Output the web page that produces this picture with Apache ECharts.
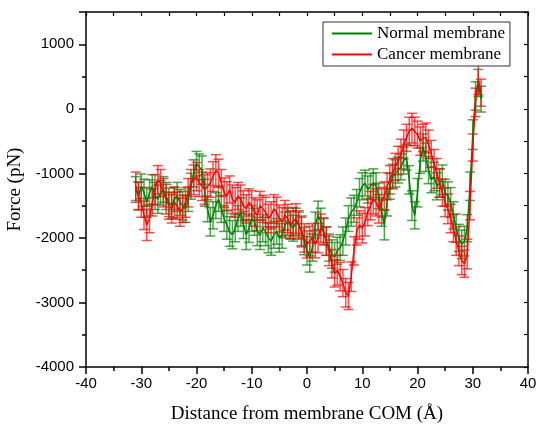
<!DOCTYPE html>
<html>
<head>
<meta charset="utf-8">
<script src="https://cdn.jsdelivr.net/npm/echarts@6/dist/echarts.min.js"></script>
<style>
  html, body { margin: 0; padding: 0; background: #fff; }
  #chart { width: 539px; height: 425px; }
</style>
</head>
<body>
<div id="chart"></div>
<script>
// distance from membrane COM (Å)
const distance = [
  -31, -30.5, -30, -29.5, -29, -28.5, -28, -27.5, -27, -26.5, -26, -25.5, -25, -24.5, -24, -23.5,
  -23, -22.5, -22, -21.5, -21, -20.5, -20, -19.5, -19, -18.5, -18, -17.5, -17, -16.5, -16, -15.5,
  -15, -14.5, -14, -13.5, -13, -12.5, -12, -11.5, -11, -10.5, -10, -9.5, -9, -8.5, -8, -7.5,
  -7, -6.5, -6, -5.5, -5, -4.5, -4, -3.5, -3, -2.5, -2, -1.5, -1, -0.5, 0, 0.5,
  1, 1.5, 2, 2.5, 3, 3.5, 4, 4.5, 5, 5.5, 6, 6.5, 7, 7.5, 8, 8.5,
  9, 9.5, 10, 10.5, 11, 11.5, 12, 12.5, 13, 13.5, 14, 14.5, 15, 15.5, 16, 16.5,
  17, 17.5, 18, 18.5, 19, 19.5, 20, 20.5, 21, 21.5, 22, 22.5, 23, 23.5, 24, 24.5,
  25, 25.5, 26, 26.5, 27, 27.5, 28, 28.5, 29, 29.5, 30, 30.5, 31, 31.5
];

// force (pN), normal membrane
const normalForce = [
  -1250, -1350, -1200, -1300, -1450, -1300, -1200, -1350, -1400, -1300, -1250, -1350, -1450, -1500, -1400, -1350,
  -1450, -1500, -1550, -1400, -1200, -1000, -850, -900, -950, -1300, -1550, -1750, -1650, -1500, -1400, -1550,
  -1700, -1800, -1900, -1950, -1850, -1700, -1600, -1800, -1950, -1850, -1700, -1750, -1900, -1950, -1850, -1900,
  -2000, -2050, -1950, -1900, -2000, -1950, -1800, -1750, -1800, -1850, -1750, -1800, -1900, -2050, -2200, -2300,
  -2150, -1800, -1650, -1750, -1900, -2050, -2150, -2250, -2300, -2200, -2150, -2050, -1900, -1700, -1600, -1550,
  -1450, -1300, -1200, -1150, -1250, -1200, -1150, -1200, -1350, -1600, -1800, -1450, -1200, -1050, -1000, -950,
  -900, -800, -750, -1100, -1500, -1650, -1300, -800, -600, -750, -950, -1100, -1050, -1200, -1150, -1100,
  -1300, -1350, -1450, -1650, -1850, -2000, -2100, -2050, -1850, -1200, -400, 200, 400, 150
];
const normalErr = [
  200, 220, 190, 210, 230, 200, 180, 210, 220, 190, 200, 210, 220, 200, 190, 210,
  200, 220, 210, 190, 200, 210, 190, 200, 220, 210, 200, 220, 210, 200, 190, 210,
  200, 220, 230, 220, 210, 200, 220, 210, 230, 220, 200, 210, 220, 230, 210, 220,
  230, 220, 210, 200, 220, 210, 200, 210, 220, 200, 210, 200, 220, 210, 220, 230,
  210, 200, 220, 210, 200, 220, 210, 220, 230, 210, 200, 220, 210, 200, 220, 210,
  200, 220, 210, 200, 210, 200, 220, 210, 200, 220, 230, 210, 200, 190, 210, 200,
  200, 210, 200, 220, 230, 210, 220, 200, 210, 220, 210, 200, 220, 210, 220, 230,
  210, 220, 230, 210, 220, 210, 220, 230, 210, 220, 230, 220, 210, 200
];

// force (pN), cancer membrane
const cancerForce = [
  -1200, -1350, -1450, -1650, -1800, -1700, -1450, -1250, -1100, -1150, -1300, -1400, -1500, -1550, -1450, -1500,
  -1600, -1550, -1450, -1300, -1150, -1100, -1050, -1150, -1200, -1250, -1200, -1150, -1050, -950, -1000, -1150,
  -1300, -1350, -1250, -1400, -1450, -1350, -1400, -1500, -1550, -1450, -1500, -1600, -1650, -1500, -1550, -1600,
  -1700, -1650, -1550, -1600, -1700, -1750, -1650, -1700, -1800, -1750, -1700, -1800, -1900, -2000, -2100, -2050,
  -2000, -2100, -2000, -1850, -1900, -2050, -2200, -2400, -2550, -2500, -2600, -2700, -2850, -2900, -2600, -2200,
  -1900, -1800, -1850, -1750, -1600, -1500, -1400, -1450, -1550, -1450, -1350, -1200, -1100, -1000, -900, -800,
  -700, -550, -450, -350, -300, -350, -400, -500, -450, -450, -550, -700, -850, -1000, -1150, -1300,
  -1450, -1550, -1700, -1850, -2050, -2200, -2350, -2400, -2250, -1500, -600, 100, 450, 250
];
const cancerErr = [
  220, 210, 230, 220, 240, 220, 210, 230, 220, 210, 220, 230, 210, 220, 230, 210,
  220, 210, 230, 220, 210, 230, 220, 210, 220, 230, 210, 220, 230, 240, 220, 210,
  230, 220, 210, 220, 230, 210, 220, 230, 220, 210, 230, 220, 240, 220, 210, 230,
  220, 210, 220, 230, 210, 220, 230, 220, 210, 220, 230, 220, 240, 220, 210, 230,
  220, 210, 230, 220, 210, 220, 230, 220, 210, 230, 220, 210, 220, 210, 230, 220,
  210, 220, 230, 220, 210, 220, 230, 210, 220, 230, 220, 210, 220, 230, 210, 220,
  230, 220, 210, 220, 230, 220, 210, 220, 210, 230, 220, 210, 220, 230, 220, 210,
  220, 230, 220, 210, 220, 230, 220, 210, 230, 220, 210, 220, 230, 210
];

const xTicks = { min: -40, max: 40, interval: 10 };
const yTicks = { min: -4000, max: 1500, interval: 1000 };

const GREEN = '#008000';
const RED = '#ff0000';

function pairs(ys) {
  return distance.map((x, i) => [x, ys[i]]);
}
function triples(ys, errs) {
  return distance.map((x, i) => [x, ys[i], errs[i]]);
}

function errBars(color) {
  return function (params, api) {
    const x = api.value(0), y = api.value(1), e = api.value(2);
    const top = api.coord([x, y + e]);
    const bot = api.coord([x, y - e]);
    const hw = 5;
    const style = { stroke: color, lineWidth: 1.5, opacity: 0.7 };
    return {
      type: 'group',
      children: [
        { type: 'line', shape: { x1: top[0], y1: top[1], x2: bot[0], y2: bot[1] }, style: style },
        { type: 'line', shape: { x1: top[0] - hw, y1: top[1], x2: top[0] + hw, y2: top[1] }, style: style },
        { type: 'line', shape: { x1: bot[0] - hw, y1: bot[1], x2: bot[0] + hw, y2: bot[1] }, style: style }
      ]
    };
  };
}

const chart = echarts.init(document.getElementById('chart'));

const axisLine = { show: true, onZero: false, lineStyle: { color: '#000', width: 1.5 } };
const sansLabel = {
  color: '#000', fontFamily: 'Liberation Sans', fontSize: 15,
  formatter: v => String(v)
};
const serifName = { color: '#000', fontFamily: 'Liberation Serif', fontSize: 19 };

chart.setOption({
  animation: false,
  backgroundColor: '#fff',
  grid: { left: 86, right: 11, top: 12, bottom: 58, containLabel: false, outerBoundsMode: 'none' },
  legend: {
    data: ['Normal membrane', 'Cancer membrane'],
    orient: 'vertical',
    left: 323,
    top: 22,
    padding: [3, 5, 3, 9],
    itemGap: 4,
    itemWidth: 40,
    itemHeight: 2,
    itemTextGap: 3,
    icon: 'rect',
    borderColor: '#333',
    borderWidth: 1,
    borderRadius: 0,
    backgroundColor: '#fff',
    textStyle: { color: '#000', fontFamily: 'Liberation Serif', fontSize: 17 }
  },
  xAxis: [
    {
      type: 'value',
      min: xTicks.min, max: xTicks.max, interval: xTicks.interval,
      name: 'Distance from membrane COM (Å)',
      nameLocation: 'middle',
      nameGap: 38,
      nameTextStyle: serifName,
      axisLine: axisLine,
      axisTick: { show: true, inside: false, length: 7, lineStyle: { color: '#000', width: 1.5 } },
      minorTick: { show: true, splitNumber: 2, length: 4, lineStyle: { color: '#000', width: 1.5 } },
      axisLabel: Object.assign({ margin: 9 }, sansLabel),
      splitLine: { show: false }
    },
    {
      type: 'value',
      position: 'top',
      min: xTicks.min, max: xTicks.max, interval: xTicks.interval,
      axisLine: axisLine,
      axisTick: { show: true, inside: true, length: 4, lineStyle: { color: '#000', width: 1.2 } },
      minorTick: { show: true, splitNumber: 2, length: 4, lineStyle: { color: '#000', width: 1.2 } },
      axisLabel: { show: false },
      splitLine: { show: false }
    }
  ],
  yAxis: [
    {
      type: 'value',
      min: yTicks.min, max: yTicks.max, interval: yTicks.interval,
      name: 'Force (pN)',
      nameLocation: 'middle',
      nameGap: 56,
      nameTextStyle: serifName,
      axisLine: axisLine,
      axisTick: { show: true, inside: false, length: 7, lineStyle: { color: '#000', width: 1.5 } },
      minorTick: { show: true, splitNumber: 2, length: 4, lineStyle: { color: '#000', width: 1.5 } },
      axisLabel: Object.assign({ margin: 12, showMaxLabel: false }, sansLabel),
      splitLine: { show: false }
    },
    {
      type: 'value',
      position: 'right',
      min: yTicks.min, max: yTicks.max, interval: yTicks.interval,
      axisLine: axisLine,
      axisTick: { show: true, inside: true, length: 4, lineStyle: { color: '#000', width: 1.2 } },
      minorTick: { show: true, splitNumber: 2, length: 4, lineStyle: { color: '#000', width: 1.2 } },
      axisLabel: { show: false },
      splitLine: { show: false }
    }
  ],
  series: [
    {
      name: 'normal error',
      type: 'custom',
      renderItem: errBars(GREEN),
      data: triples(normalForce, normalErr),
      encode: { x: 0, y: [1, 2] },
      silent: true
    },
    {
      name: 'Normal membrane',
      type: 'line',
      data: pairs(normalForce),
      symbol: 'none',
      color: GREEN,
      lineStyle: { color: GREEN, width: 1.5 }
    },
    {
      name: 'cancer error',
      type: 'custom',
      renderItem: errBars(RED),
      data: triples(cancerForce, cancerErr),
      encode: { x: 0, y: [1, 2] },
      silent: true
    },
    {
      name: 'Cancer membrane',
      type: 'line',
      data: pairs(cancerForce),
      symbol: 'none',
      color: RED,
      lineStyle: { color: RED, width: 1.5 }
    }
  ]
});
</script>
</body>
</html>
